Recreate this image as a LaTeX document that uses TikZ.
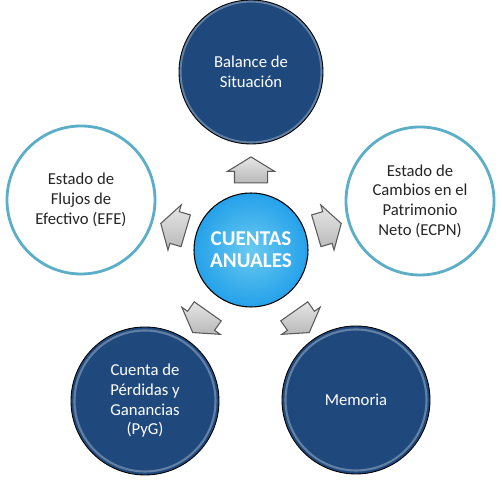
\documentclass[tikz,border=0pt]{standalone}
\usepackage{fontspec}
\setmainfont{Carlito}
\usepackage{tikz}
\usetikzlibrary{shapes.arrows,calc}
\definecolor{darkblue}{HTML}{1F497D}
\definecolor{corecyan}{HTML}{29B3E8}
\definecolor{ringteal}{HTML}{5BAEC6}
\tikzset{
  darkdisc/.style={circle,draw=black,line width=.5pt,fill=darkblue,text=white,
    minimum size=2.96cm,inner sep=0pt,align=center,
    font=\fontsize{9.5}{11.2}\selectfont,
    path picture={\draw[white,opacity=.3,line width=1.2pt]
      (path picture bounding box.center) circle[radius=1.41cm];}},
  ringdisc/.style={circle,draw=ringteal,line width=1.6pt,fill=white,text=black!85,
    minimum size=2.96cm,inner sep=0pt,align=center,
    font=\fontsize{9.5}{11.2}\selectfont},
  coredisc/.style={circle,draw=black,line width=.6pt,inner color=corecyan!70!white,
    outer color=corecyan!90!blue,text=white,minimum size=2.28cm,inner sep=0pt,
    align=center,font=\fontsize{12}{12.6}\selectfont\bfseries},
  homearrow/.style={single arrow,draw=black!65,line width=.6pt,
    top color=gray!20,bottom color=gray!55,inner sep=0pt,
    text height=.32cm,text depth=.32cm,text width=0pt,minimum height=.52cm,
    single arrow head extend=.14cm,single arrow tip angle=117},
}
\begin{document}
\begin{tikzpicture}
  \useasboundingbox (0,0) rectangle (10.04,9.62);
  \node[coredisc] (core) at (5.02,4.62) {CUENTAS\\ANUALES};
  \node[darkdisc,minimum size=2.88cm] (bal) at (5.02,8.18) {Balance de\\Situación};
  \node[ringdisc] (ecpn) at (8.40,5.60) {Estado de\\Cambios en el\\Patrimonio\\Neto (ECPN)};
  \node[ringdisc] (efe) at (1.62,5.62) {Estado de\\Flujos de\\Efectivo (EFE)};
  \node[darkdisc] (pyg) at (2.90,1.60) {Cuenta de\\Pérdidas y\\Ganancias\\(PyG)};
  \node[darkdisc] (mem) at (7.12,1.62) {Memoria};
  % arrows pointing out of the centre
  \node[homearrow,rotate=90] (upbal) at ($(core)+(90:1.5)$) {};
  \node[homearrow,rotate=16.4] (toecpn) at ($(core)+(16.4:1.52)$) {};
  \node[homearrow,rotate=163.6] (toefe) at ($(core)+(163.6:1.52)$) {};
  \node[homearrow,rotate=234.8] (topyg) at ($(core)+(234.8:1.66)$) {};
  \node[homearrow,rotate=305.2] (tomem) at ($(core)+(305.2:1.66)$) {};
\end{tikzpicture}
\end{document}
